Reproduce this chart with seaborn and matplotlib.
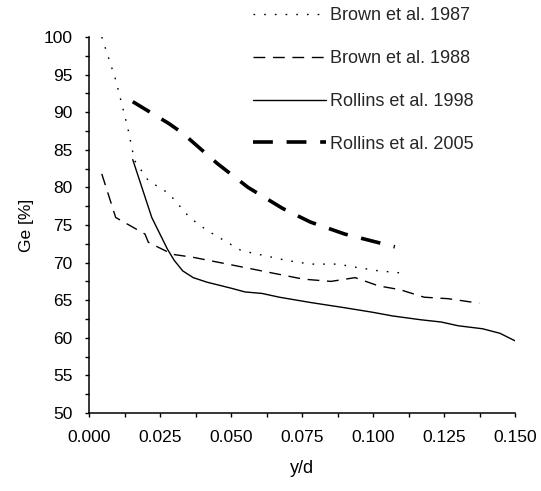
import numpy as np
import pandas as pd
import matplotlib
matplotlib.use("Agg")
import matplotlib.pyplot as plt
import seaborn as sns
from matplotlib.ticker import MultipleLocator, FormatStrFormatter

sns.set_theme(style="ticks")
plt.rcParams['font.family'] = ['Liberation Sans', 'DejaVu Sans']

# Data
brown87_x = [0.0045, 0.0094, 0.0136, 0.016, 0.0209, 0.0281, 0.0354, 0.0415, 0.0536, 0.056,
             0.0646, 0.0694, 0.0779, 0.0876, 0.0937, 0.102, 0.1107]
brown87_y = [100.0, 94.3, 88.0, 83.6, 80.9, 79.2, 76.0, 74.3, 71.6, 71.4,
             70.7, 70.3, 69.8, 69.8, 69.4, 68.9, 68.6]

brown88_x = [0.0045, 0.0094, 0.0197, 0.0209, 0.0294, 0.0367, 0.0488, 0.0634, 0.0755, 0.0852,
             0.0937, 0.102, 0.1095, 0.118, 0.1265, 0.1374]
brown88_y = [81.8, 76.0, 73.8, 72.7, 71.1, 70.7, 69.8, 68.7, 67.8, 67.5,
             68.0, 66.9, 66.4, 65.4, 65.2, 64.6]

rollins98_x = [0.0154, 0.0221, 0.0276, 0.030, 0.033, 0.0367, 0.0415, 0.050, 0.0549, 0.0609,
               0.067, 0.0779, 0.090, 0.0998, 0.107, 0.1168, 0.124, 0.130, 0.1386, 0.1447, 0.150]
rollins98_y = [83.7, 76.0, 71.8, 70.3, 68.9, 68.0, 67.4, 66.6, 66.1, 65.9,
               65.4, 64.7, 64.0, 63.4, 62.9, 62.4, 62.1, 61.6, 61.2, 60.6, 59.6]

rollins05_x = [0.0154, 0.0281, 0.033, 0.0451, 0.056, 0.0682, 0.0779, 0.090, 0.1077]
rollins05_y = [91.4, 88.5, 87.2, 83.2, 80.0, 77.2, 75.4, 73.8, 72.1]

labels = ["Brown et al. 1987", "Brown et al. 1988", "Rollins et al. 1998", "Rollins et al. 2005"]
series = [(brown87_x, brown87_y), (brown88_x, brown88_y),
          (rollins98_x, rollins98_y), (rollins05_x, rollins05_y)]
styles = [dict(lw=1.0, ls=(0, (1.2, 6.5))),
          dict(lw=1.0, ls=(0, (8.5, 5.5))),
          dict(lw=1.0, ls='-'),
          dict(lw=2.6, ls=(0, (5.5, 3.8)))]

fig = plt.figure(figsize=(5.41, 4.91), dpi=100)
ax = fig.add_axes([89/541, 1 - 413/491, (515-89)/541, (413-37)/491])

for (xs, ys), lab, st in zip(series, labels, styles):
    df = pd.DataFrame({"y/d": xs, "Ge": ys})
    sns.lineplot(data=df, x="y/d", y="Ge", ax=ax, sort=False, color="black",
                 linewidth=st["lw"], linestyle=st["ls"], label=lab, legend=False)

ax.set_xlim(0, 0.15)
ax.set_ylim(50, 100)
ax.xaxis.set_major_locator(MultipleLocator(0.025))
ax.xaxis.set_minor_locator(MultipleLocator(0.0125))
ax.yaxis.set_major_locator(MultipleLocator(5))
ax.yaxis.set_minor_locator(MultipleLocator(2.5))
ax.xaxis.set_major_formatter(FormatStrFormatter('%.3f'))
for s in ['top', 'right']:
    ax.spines[s].set_visible(False)
for s in ['left', 'bottom']:
    ax.spines[s].set_linewidth(1.1)
    ax.spines[s].set_color('black')
ax.tick_params(which='major', length=3.2, width=1.0, color='black', labelsize=12.5,
               labelcolor='black', direction='out')
ax.tick_params(which='minor', length=3.2, width=1.0, color='black', direction='out')
ax.tick_params(axis='x', which='major', pad=9)
ax.tick_params(axis='y', which='major', pad=8.5)
ax.set_xlabel("y/d", fontsize=13, color='black', labelpad=11)
ax.set_ylabel("Ge [%]", fontsize=12.5, color='black', labelpad=7)

handles, labs = ax.get_legend_handles_labels()
fig.legend(handles, labs, loc='upper left', bbox_to_anchor=(246/541, 1.0),
           frameon=False, fontsize=13, handlelength=4.05, handletextpad=0.22,
           labelspacing=1.43, borderaxespad=0)

fig.savefig("out.png", dpi=100)
